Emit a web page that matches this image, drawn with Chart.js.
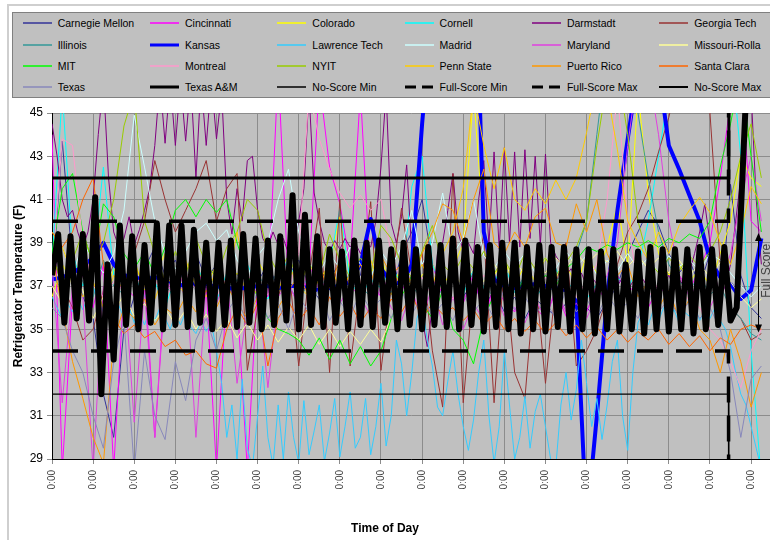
<!DOCTYPE html>
<html>
<head>
<meta charset="utf-8">
<script src="https://cdn.jsdelivr.net/npm/chart.js@4.4.1/dist/chart.umd.min.js"></script>
<style>
body { margin: 0; background: #fff; font-family: "Liberation Sans", Arial, sans-serif; }
#wrap { position: relative; width: 770px; height: 540px; overflow: hidden; }
#frame { position: absolute; left: 7px; top: 4px; width: 800px; height: 600px; border-left: 2px solid #cfcfcf; border-top: 2px solid #cfcfcf; }
#chart { position: absolute; left: 0; top: 0; }
#legend { position: absolute; left: 12px; top: 12px; width: 760px; height: 84px; background: #c0c0c0; border: 1px solid #808080; }
.item { position: absolute; height: 14px; display: flex; align-items: center; font-size: 10.5px; color: #000; white-space: nowrap; }
.item svg { margin-right: 6px; }
#xtitle { position: absolute; left: 0; top: 521px; width: 770px; text-align: center; font-weight: bold; font-size: 12px; }
</style>
</head>
<body>
<div id="wrap">
  <div id="frame"></div>
  <canvas id="chart" width="770" height="540"></canvas>
  <div id="legend"></div>
  <div id="xtitle">Time of Day</div>
</div>
<script>
// time steps (days) between readings
const thinStep = 0.25;
const fineStep = 0.125;
const aggieStep = 0.15;

const xTickLabels = ['0:00', '0:00', '0:00', '0:00', '0:00', '0:00', '0:00', '0:00', '0:00',
    '0:00', '0:00', '0:00', '0:00', '0:00', '0:00', '0:00', '0:00', '0:00'];

const carnegieMellon = [
    37.0, 43.7, 38.0, 36.5, 35.5, 32.0, 30.0, 35.0, 36.5, 37.8,
    38.8, 37.5, 38.2, 37.0, 38.5, 37.3, 38.0, 36.8, 37.6, 36.5,
    37.2, 38.0, 36.9, 37.5, 38.2, 37.0, 36.4, 37.4, 38.0, 36.8,
    37.5, 40.0, 37.3, 36.6, 38.5, 39.5, 41.0, 38.0, 36.8, 37.5,
    36.5, 37.2, 36.0, 36.8, 35.8, 36.5, 35.5, 36.4, 36.0, 35.6,
    36.2, 35.4, 36.0, 35.5, 36.3, 37.0, 38.5, 39.5, 40.5, 39.8,
    38.5, 37.6, 38.2, 37.0, 38.5, 35.5, 41.7, 37.5, 36.0, 35.5];
const cincinnati = [
    44.0, 28.5, 36.5, 37.5, 36.0, 38.0, 28.5, 37.0, 36.5, 37.5,
    30.0, 36.8, 37.4, 36.5, 37.8, 36.9, 28.5, 37.0, 36.4, 28.5,
    37.2, 36.5, 47.0, 37.0, 36.2, 37.5, 46.5, 42.5, 40.8, 38.0,
    46.0, 37.2, 36.5, 37.8, 36.8, 37.5, 36.4, 38.0, 36.5, 37.3,
    36.2, 37.6, 35.5, 37.0, 36.3, 35.8, 37.2, 36.0, 35.5, 36.8,
    35.6, 36.4, 35.8, 37.0, 36.2, 37.5, 36.6, 37.3, 36.0, 37.0,
    36.5, 37.5, 36.8, 37.8, 39.0, 42.0, 45.5, 47.0, 40.0, 39.5];
const colorado = [
    36.5, 38.0, 37.2, 38.5, 37.0, 36.4, 37.8, 37.0, 38.2, 36.8,
    37.5, 38.5, 37.2, 36.6, 37.9, 37.0, 38.0, 36.9, 37.6, 36.8,
    38.2, 37.3, 36.7, 37.8, 37.0, 38.0, 37.1, 38.0, 40.2, 37.5,
    36.9, 37.6, 38.3, 37.0, 37.8, 36.8, 37.5, 38.0, 37.0, 37.8,
    39.0, 46.0, 39.4, 37.5, 38.2, 37.0, 38.0, 37.2, 38.3, 37.4,
    38.0, 37.0, 38.4, 37.6, 38.8, 40.8, 38.0, 46.0, 41.3, 38.5,
    37.5, 38.0, 37.2, 37.8, 37.0, 38.5, 40.0, 43.0, 42.0, 41.6];
const cornell = [
    38.0, 46.0, 38.5, 37.0, 38.0, 42.5, 37.5, 36.8, 37.5, 36.5,
    37.2, 36.0, 37.4, 36.8, 38.0, 37.0, 36.3, 37.6, 36.5, 38.0,
    37.0, 36.4, 37.5, 38.2, 36.8, 37.4, 36.6, 38.0, 40.6, 37.2,
    36.5, 37.3, 36.9, 38.0, 37.0, 41.6, 43.0, 38.0, 36.8, 37.5,
    36.6, 37.8, 36.9, 37.2, 38.0, 36.7, 37.4, 36.5, 37.0, 37.8,
    36.8, 37.3, 36.4, 37.1, 36.6, 37.4, 36.9, 37.8, 40.0, 43.0,
    46.0, 48.0, 48.0, 48.0, 48.0, 48.0, 48.0, 43.0, 34.0, 28.0];
const darmstadt = [
    44.5, 43.0, 41.0, 40.2, 40.5, 39.5, 38.8, 39.5, 41.0, 44.0,
    46.5, 42.0, 39.5, 38.8, 39.2, 40.2, 38.9, 39.6, 40.5, 41.5,
    43.5, 46.5, 43.6, 46.5, 43.5, 46.5, 43.7, 46.5, 42.0, 46.5,
    43.5, 46.5, 43.8, 46.0, 41.0, 39.4, 41.5, 40.0, 42.8, 43.0,
    40.5, 39.2, 38.8, 39.5, 38.9, 39.2, 38.5, 39.0, 40.0, 41.5,
    46.0, 41.3, 40.0, 39.0, 38.6, 39.1, 38.7, 39.2, 38.8, 39.0,
    38.5, 39.0, 38.8, 40.0, 42.5, 46.0, 39.9, 39.0, 40.2, 42.6,
    38.5, 37.0, 35.5, 34.2, 36.0, 38.5, 39.0, 40.5, 42.2, 39.5,
    38.6, 39.0, 38.5, 41.0, 42.8, 38.9, 43.2, 38.7, 43.4, 39.0,
    43.2, 38.8, 43.3, 39.2, 43.0, 38.9, 43.1, 39.0, 38.4, 38.0,
    37.5, 37.8, 37.2, 37.6, 37.0, 37.4, 37.1, 37.5, 36.9, 37.3,
    37.0, 37.4, 36.8, 37.2, 37.0, 37.3, 36.9, 37.2, 36.8, 37.1,
    37.5, 36.9, 37.3, 37.0, 37.6, 38.5, 39.5, 40.8, 39.0, 37.5,
    36.5, 37.0, 38.0, 40.0, 42.0, 44.5, 46.0, 41.0, 38.0];
const georgiaTech = [
    38.5, 37.0, 36.0, 34.5, 35.0, 36.8, 38.0, 37.0, 38.5, 40.0,
    42.8, 41.0, 39.5, 40.5, 41.5, 42.8, 40.0, 41.5, 42.2, 33.1,
    36.0, 37.5, 36.5, 38.0, 33.3, 37.5, 40.6, 33.0, 41.0, 33.3,
    37.0, 40.9, 33.1, 37.0, 40.6, 37.5, 38.5, 34.0, 31.4, 42.2,
    31.6, 37.0, 39.4, 31.6, 38.0, 33.0, 31.8, 37.5, 32.5, 37.0,
    39.0, 33.3, 34.0, 35.0, 36.5, 38.0, 39.5, 40.3, 41.5, 43.2,
    44.8, 47.0, 48.0, 47.0, 45.0, 38.0, 36.0, 35.5, 34.5, 34.8];
const illinois = [
    37.5, 36.8, 38.0, 37.2, 36.5, 38.2, 37.0, 36.6, 37.5, 36.9,
    37.8, 37.0, 36.5, 37.4, 36.8, 37.6, 37.0, 36.4, 37.3, 36.7,
    37.5, 36.9, 37.7, 37.0, 36.3, 37.2, 36.6, 37.4, 36.8, 37.6,
    37.0, 36.5, 37.3, 36.7, 37.5, 37.0, 36.4, 37.2, 36.6, 37.4,
    36.8, 37.6, 37.0, 36.5, 37.3, 36.7, 37.5, 37.0, 36.4, 37.2,
    37.8, 38.5, 40.0, 44.0, 48.0, 48.0, 47.0, 45.0, 42.0, 39.5,
    38.0, 37.2, 36.8, 37.5, 36.6, 37.0, 36.0, 35.5, 34.8, 34.5];
const kansas = [
    37.3, 37.4, 37.6, 37.9, 38.3, 39.0, 38.0, 37.5, 37.4, 37.3,
    37.4, 37.3, 37.1, 37.0, 37.1, 37.0, 37.0, 36.9, 36.9, 36.9,
    37.0, 37.0, 36.9, 37.0, 37.0, 36.9, 36.8, 36.9, 37.0, 37.2,
    38.0, 40.1, 37.8, 37.2, 37.1, 38.0, 44.5, 50.0, 52.0, 52.0,
    52.0, 55.0, 39.5, 37.3, 37.0, 36.9, 37.0, 37.1, 37.0, 36.9,
    36.8, 36.3, 26.0, 31.0, 36.5, 40.5, 43.8, 47.0, 50.0, 47.0,
    43.5, 42.4, 41.2, 40.0, 38.2, 37.4, 37.1, 36.4, 36.8, 39.2];
const lawrenceTech = [
    36.5, 36.0, 35.5, 36.2, 35.8, 36.4, 35.9, 36.5, 37.0, 36.2,
    35.8, 36.3, 35.6, 36.1, 35.5, 36.0, 35.3, 35.8, 35.2, 35.9,
    35.4, 36.0, 35.5, 35.0, 35.7, 35.2, 35.8, 35.1, 34.8, 35.4,
    34.9, 35.3, 34.0, 32.5, 30.0, 31.5, 29.0, 32.7, 29.5, 28.6,
    31.0, 33.3, 30.0, 28.7, 31.5, 29.0, 32.1, 30.0, 28.8, 31.7,
    29.2, 30.3, 31.5, 28.9, 30.2, 31.8, 29.1, 30.5, 32.1, 29.5,
    30.0, 31.8, 29.2, 30.5, 32.5, 29.6, 31.0, 34.5, 33.4, 31.0,
    33.0, 35.5, 36.2, 34.5, 33.3, 31.4, 31.0, 32.6, 34.0, 32.0,
    30.5, 29.4, 30.8, 33.0, 34.5, 31.0, 28.8, 30.5, 34.0, 31.5,
    29.0, 30.0, 31.9, 29.5, 31.2, 32.0, 30.5, 29.0, 28.6, 31.5,
    33.0, 30.8, 32.2, 34.5, 32.5, 30.5, 31.8, 29.9, 31.5, 33.5,
    34.5, 31.0, 29.4, 33.0, 35.3, 35.8, 35.2, 35.9, 35.4, 36.0,
    35.5, 35.9, 35.3, 35.8, 35.6, 36.1, 35.4, 35.9, 35.5, 36.0,
    35.4, 35.0, 34.2, 33.0, 32.0, 31.5, 30.5, 29.5, 28.5];
const madrid = [
    38.0, 38.8, 37.5, 39.0, 38.2, 37.6, 38.5, 40.5, 44.9, 42.5,
    40.0, 38.5, 37.8, 38.6, 39.5, 39.9, 39.1, 39.6, 38.2, 37.5,
    38.4, 39.0, 41.0, 42.4, 39.5, 38.0, 37.6, 38.5, 37.8, 38.8,
    38.0, 37.4, 38.6, 37.9, 38.8, 40.5, 38.0, 39.0, 41.3, 38.5,
    39.2, 41.0, 38.4, 37.8, 38.6, 37.9, 38.5, 37.6, 38.3, 37.8,
    38.6, 37.9, 38.4, 37.5, 38.2, 37.7, 38.5, 37.8, 38.3, 37.6,
    38.4, 37.9, 38.2, 37.7, 38.5, 38.2, 37.6, 37.0, 36.5, 37.0];
const maryland = [
    38.0, 31.6, 37.0, 36.5, 28.5, 37.0, 36.0, 37.5, 30.7, 36.8,
    30.0, 37.2, 36.5, 37.8, 30.0, 37.0, 36.2, 37.4, 32.5, 36.0,
    37.0, 32.3, 36.5, 37.2, 36.0, 38.0, 36.8, 37.5, 36.2, 37.0,
    36.5, 35.6, 37.0, 36.0, 35.4, 36.8, 35.5, 37.0, 35.2, 36.5,
    35.0, 36.2, 35.4, 36.8, 35.6, 36.0, 35.3, 36.4, 35.5, 36.9,
    35.8, 36.2, 35.5, 36.6, 37.5, 39.0, 43.5, 47.0, 47.0, 44.0,
    40.0, 37.5, 36.5, 37.2, 36.0, 37.0, 38.5, 41.0, 43.0, 40.0];
const missouriRolla = [
    37.0, 36.2, 37.5, 36.8, 35.5, 36.5, 35.8, 36.6, 35.6, 36.2,
    35.4, 36.0, 35.2, 35.9, 35.0, 35.7, 34.9, 35.5, 34.6, 35.3,
    34.5, 35.2, 34.4, 35.1, 34.5, 35.2, 34.3, 35.0, 34.2, 34.9,
    34.3, 35.0, 34.4, 35.5, 36.5, 37.2, 36.6, 37.5, 36.8, 37.6,
    37.0, 37.8, 37.2, 38.0, 37.4, 38.2, 37.5, 38.0, 37.6, 38.3,
    37.8, 38.5, 38.0, 38.5, 38.1, 38.6, 37.9, 38.4, 37.8, 38.3,
    37.6, 38.2, 37.5, 38.0, 37.4, 38.1, 37.2, 36.5, 36.0, 36.4];
const mit = [
    38.5, 41.5, 42.2, 39.5, 38.0, 40.8, 40.2, 38.5, 37.8, 38.6,
    37.5, 38.8, 40.5, 41.0, 40.2, 41.0, 40.4, 41.0, 39.0, 37.5,
    36.5, 35.5, 35.0, 34.8, 34.5, 33.8, 34.6, 33.6, 34.5, 33.4,
    34.2, 33.3, 34.0, 35.5, 36.5, 37.5, 36.2, 35.5, 36.8, 35.0,
    34.5, 33.4, 35.5, 36.6, 37.2, 36.5, 37.4, 36.8, 37.5, 37.0,
    37.8, 38.2, 38.8, 38.6, 38.9, 38.7, 39.0, 38.8, 39.1, 38.8,
    39.2, 39.0, 39.4, 39.2, 40.0, 42.5, 44.5, 47.0, 43.0, 39.5];
const montreal = [
    37.5, 43.8, 43.5, 39.0, 37.0, 36.5, 37.2, 36.8, 37.5, 36.9,
    37.3, 36.6, 37.0, 37.6, 36.8, 37.2, 36.5, 37.4, 36.9, 37.5,
    37.0, 36.6, 37.3, 36.8, 38.5, 46.0, 43.8, 42.4, 41.3, 40.6,
    41.2, 40.5, 41.0, 38.5, 37.2, 36.8, 37.4, 36.5, 37.0, 36.4,
    37.2, 36.7, 37.5, 36.9, 37.3, 36.5, 37.1, 36.8, 37.4, 36.6,
    37.0, 36.5, 37.2, 38.0, 41.0, 46.0, 40.0, 37.0, 36.5, 37.1,
    36.6, 37.0, 36.3, 36.0, 35.0, 34.5, 33.5, 32.3, 34.0, 35.0];
const nyit = [
    38.5, 37.0, 38.2, 39.5, 38.0, 39.0, 41.0, 44.4, 46.0, 40.0,
    38.5, 37.2, 38.6, 37.5, 39.2, 38.0, 37.4, 38.8, 39.5, 41.0,
    40.5, 38.5, 37.6, 38.4, 37.2, 38.0, 37.5, 39.4, 38.2, 37.4,
    38.3, 37.6, 39.8, 39.2, 38.0, 37.4, 38.6, 39.8, 38.0, 37.5,
    38.4, 37.8, 38.6, 37.6, 38.2, 37.4, 38.5, 37.8, 38.3, 37.5,
    38.1, 38.8, 40.0, 43.5, 46.5, 47.0, 44.0, 40.0, 38.2, 37.6,
    38.3, 37.7, 38.4, 37.9, 38.6, 39.5, 41.0, 43.0, 44.5, 42.0];
const pennState = [
    39.5, 38.8, 37.5, 36.5, 37.2, 36.0, 37.5, 36.8, 38.0, 37.0,
    36.4, 37.6, 36.8, 38.2, 37.0, 36.5, 37.8, 36.9, 39.5, 37.2,
    36.6, 37.5, 36.8, 38.0, 37.0, 36.5, 37.3, 38.0, 36.9, 37.5,
    36.8, 38.2, 37.0, 36.6, 37.8, 37.2, 38.0, 37.0, 38.5, 39.5,
    41.5, 46.0, 43.5, 41.5, 43.4, 41.0, 40.5, 41.5, 40.8, 41.9,
    41.0, 42.0, 44.1, 46.5, 46.0, 43.3, 40.0, 39.0, 38.2, 39.5,
    38.5, 39.8, 40.5, 41.1, 40.4, 39.0, 38.0, 39.5, 41.6, 40.8];
const puertoRico = [
    38.5, 35.9, 33.5, 31.8, 30.0, 28.8, 34.5, 36.0, 35.5, 36.4,
    35.2, 36.0, 35.6, 36.5, 35.8, 36.8, 36.0, 37.0, 36.2, 35.5,
    36.5, 37.2, 36.0, 36.8, 37.5, 36.5, 37.8, 36.9, 38.2, 37.0,
    38.0, 37.2, 38.4, 37.5, 38.0, 37.0, 38.5, 39.5, 40.8, 40.5,
    39.0, 41.0, 42.4, 39.0, 38.5, 39.5, 38.8, 40.2, 40.6, 39.0,
    38.8, 40.8, 39.5, 41.0, 38.5, 37.5, 38.0, 36.5, 37.2, 36.0,
    36.8, 35.5, 36.4, 35.0, 34.5, 33.0, 35.0, 33.5, 31.4, 33.0];
const santaClara = [
    39.5, 38.8, 39.5, 41.0, 42.0, 38.0, 35.5, 34.8, 35.2, 34.6,
    34.9, 34.2, 34.5, 33.8, 34.0, 33.4, 33.2, 35.0, 36.0, 35.2,
    36.2, 33.3, 35.5, 36.3, 35.4, 36.0, 35.2, 36.5, 35.6, 36.2,
    35.3, 36.0, 35.5, 36.4, 35.8, 36.6, 35.5, 36.2, 35.7, 36.0,
    35.4, 35.9, 35.2, 35.7, 35.0, 35.5, 34.9, 35.4, 34.8, 35.3,
    34.7, 35.2, 34.6, 35.1, 34.5, 35.0, 34.4, 34.9, 34.5, 35.0,
    34.3, 34.8, 34.2, 34.7, 34.0, 34.6, 34.3, 35.0, 35.2, 35.0];
const texas = [
    36.0, 35.5, 34.0, 33.0, 31.0, 29.5, 33.5, 35.5, 28.5, 34.0,
    31.0, 29.9, 33.5, 31.7, 34.5, 35.5, 34.0, 35.8, 36.5, 35.2,
    36.8, 35.5, 36.2, 35.0, 36.5, 35.8, 36.9, 35.4, 36.3, 35.6,
    36.7, 35.9, 36.4, 35.5, 36.8, 35.7, 36.5, 35.6, 36.2, 35.4,
    36.6, 35.8, 36.4, 35.5, 36.9, 35.9, 36.5, 35.7, 36.3, 35.5,
    36.8, 35.8, 36.4, 35.6, 36.6, 35.9, 36.2, 35.5, 36.7, 35.8,
    36.4, 35.6, 36.3, 35.5, 36.0, 35.0, 33.0, 30.0, 32.7, 33.3];
const texasAM = [
    37.5, 39.4, 35.3, 39.3, 35.5, 39.4, 35.4, 41.1, 32.0, 38.0,
    33.6, 39.8, 35.2, 39.3, 35.0, 38.9, 35.3, 39.9, 35.0, 39.8,
    35.2, 39.8, 35.1, 39.6, 35.3, 39.0, 35.0, 39.0, 35.2, 39.1,
    35.1, 39.4, 35.3, 39.2, 35.0, 39.1, 35.2, 39.3, 35.4, 41.2,
    35.0, 40.3, 35.2, 39.3, 35.1, 38.7, 35.3, 38.6, 35.0, 39.1,
    35.2, 39.0, 35.1, 39.1, 35.3, 38.7, 35.0, 39.0, 35.2, 38.7,
    35.0, 38.8, 35.2, 38.9, 35.1, 39.2, 35.0, 39.1, 35.2, 38.8,
    34.9, 38.9, 35.1, 39.0, 35.0, 39.0, 34.8, 38.8, 35.0, 38.9,
    34.9, 38.8, 35.1, 38.8, 34.9, 38.7, 35.0, 38.7, 34.8, 38.6,
    35.0, 38.7, 34.9, 38.0, 35.0, 38.6, 34.8, 38.8, 35.0, 38.7,
    34.9, 38.7, 35.0, 38.7, 34.8, 38.8, 35.0, 38.7, 35.2, 38.8,
    35.4, 36.0, 42.5, 49.0];

// score limits: flat until the end of the test, then off the scale
const limitTimes = [0, 16.45, 16.46];
const noScoreMin = [32, 32, 20];
const fullScoreMin = [34, 34, 20];
const fullScoreMax = [40, 40, 60];
const noScoreMax = [42, 42, 60];

const fullScoreArrow = { time: 17.18, low: 34.85, high: 39.45, label: 37.7 };

function line(label, values, step, color, width, dash) {
    return {
        label: label,
        data: values.map((v, i) => ({ x: i * step, y: v })),
        borderColor: color,
        borderWidth: width,
        borderDash: dash || [],
        pointRadius: 0,
        tension: 0,
        clip: 0,
        borderJoinStyle: 'round'
    };
}

function limit(label, values, width, dash) {
    const ds = line(label, values, 0, '#000000', width, dash);
    ds.data = values.map((v, i) => ({ x: limitTimes[i], y: v }));
    ds.borderJoinStyle = 'miter';
    return ds;
}

const datasets = [
    line('Carnegie Mellon', carnegieMellon, thinStep, '#333399', 1),
    line('Cincinnati', cincinnati, thinStep, '#ff00ff', 1),
    line('Colorado', colorado, thinStep, '#ffff00', 1),
    line('Cornell', cornell, thinStep, '#00ffff', 1),
    line('Darmstadt', darmstadt, fineStep, '#800080', 1),
    line('Georgia Tech', georgiaTech, thinStep, '#993333', 1),
    line('Illinois', illinois, thinStep, '#339999', 1),
    line('Kansas', kansas, thinStep, '#0000ff', 4),
    line('Lawrence Tech', lawrenceTech, fineStep, '#33ccff', 1),
    line('Madrid', madrid, thinStep, '#ccffff', 1),
    line('Maryland', maryland, thinStep, '#e040e0', 1),
    line('Missouri-Rolla', missouriRolla, thinStep, '#ffff99', 1),
    line('MIT', mit, thinStep, '#00ff00', 1),
    line('Montreal', montreal, thinStep, '#ff99cc', 1),
    line('NYIT', nyit, thinStep, '#99cc00', 1),
    line('Penn State', pennState, thinStep, '#ffcc00', 1),
    line('Puerto Rico', puertoRico, thinStep, '#ff9900', 1),
    line('Santa Clara', santaClara, thinStep, '#ff6600', 1),
    line('Texas', texas, thinStep, '#8888bb', 1),
    line('Texas A&M', texasAM, aggieStep, '#000000', 6),
    limit('No-Score Min', noScoreMin, 1.3),
    limit('Full-Score Min', fullScoreMin, 3.5, [26, 13]),
    limit('Full-Score Max', fullScoreMax, 3.5, [26, 13]),
    limit('No-Score Max', noScoreMax, 3)
];
// later series sit on top, like the spreadsheet
datasets.forEach((ds, i) => { ds.order = -i; });

// legend: 6 columns x 4 rows
const legendBox = document.getElementById('legend');
datasets.forEach((ds, i) => {
    const item = document.createElement('div');
    item.className = 'item';
    item.style.left = (9.7 + (i % 6) * 127.3) + 'px';
    item.style.top = (3.3 + Math.floor(i / 6) * 21.3) + 'px';
    let w = ds.borderWidth > 2 ? 3 : 1.5;
    if (ds.label === 'No-Score Max') w = 2;
    const dash = ds.borderDash.length ? 'stroke-dasharray="11,6"' : '';
    item.innerHTML = '<svg width="29" height="8"><line x1="0" y1="4" x2="29" y2="4" stroke="' +
        ds.borderColor + '" stroke-width="' + w + '" ' + dash + '/></svg><span></span>';
    item.querySelector('span').textContent = ds.label;
    legendBox.appendChild(item);
});

const plotBackground = {
    id: 'plotBackground',
    beforeDraw(chart) {
        const { ctx, chartArea: a } = chart;
        ctx.save();
        ctx.fillStyle = '#c0c0c0';
        ctx.fillRect(a.left, a.top, a.right - a.left, a.bottom - a.top);
        ctx.restore();
    }
};

const fullScoreNote = {
    id: 'fullScoreNote',
    afterDatasetsDraw(chart) {
        const { ctx, scales: { x, y } } = chart;
        const px = Math.round(x.getPixelForValue(fullScoreArrow.time)) + 0.5;
        const top = y.getPixelForValue(fullScoreArrow.high);
        const bottom = y.getPixelForValue(fullScoreArrow.low);
        ctx.save();
        ctx.strokeStyle = '#000';
        ctx.fillStyle = '#000';
        ctx.lineWidth = 1;
        ctx.beginPath();
        ctx.moveTo(px, top + 6);
        ctx.lineTo(px, bottom - 6);
        ctx.stroke();
        ctx.beginPath();
        ctx.moveTo(px, top);
        ctx.lineTo(px - 3.5, top + 8);
        ctx.lineTo(px + 3.5, top + 8);
        ctx.closePath();
        ctx.fill();
        ctx.beginPath();
        ctx.moveTo(px, bottom);
        ctx.lineTo(px - 3.5, bottom - 8);
        ctx.lineTo(px + 3.5, bottom - 8);
        ctx.closePath();
        ctx.fill();
        ctx.translate(px + 8, y.getPixelForValue(fullScoreArrow.label));
        ctx.rotate(-Math.PI / 2);
        ctx.font = '12px "Liberation Sans"';
        ctx.fillStyle = '#404040';
        ctx.textAlign = 'center';
        ctx.textBaseline = 'middle';
        ctx.fillText('Full Score', 0, 0);
        ctx.restore();
    }
};

const ctx = document.getElementById('chart').getContext('2d');
new Chart(ctx, {
    type: 'line',
    data: { datasets: datasets },
    plugins: [plotBackground, fullScoreNote],
    options: {
        responsive: false,
        animation: false,
        events: [],
        layout: { padding: { top: 113, left: 0, right: 0, bottom: 0 } },
        plugins: { legend: { display: false }, tooltip: { enabled: false } },
        scales: {
            x: {
                type: 'linear',
                min: 0,
                max: 17.46,
                afterFit(s) { s.height = 81; },
                grid: { color: '#8c8c8c', tickLength: 5 },
                border: { color: '#000' },
                ticks: {
                    stepSize: 1,
                    includeBounds: false,
                    autoSkip: false,
                    minRotation: 90,
                    maxRotation: 90,
                    padding: 6,
                    color: '#404040',
                    font: { family: 'Liberation Sans', size: 10 },
                    callback: (v) => xTickLabels[Math.round(v)] || ''
                }
            },
            y: {
                min: 29,
                max: 45,
                afterFit(s) { s.width = 52; },
                grid: { color: '#8c8c8c', tickLength: 5 },
                border: { color: '#000' },
                ticks: {
                    stepSize: 2,
                    padding: 4,
                    color: '#000',
                    font: { family: 'Liberation Sans', size: 12 }
                },
                title: {
                    display: true,
                    text: 'Refrigerator Temperature (F)',
                    color: '#000',
                    font: { family: 'Liberation Sans', size: 12, weight: 'bold' },
                    padding: { top: 11, bottom: 0 }
                }
            }
        }
    }
});
</script>
</body>
</html>
